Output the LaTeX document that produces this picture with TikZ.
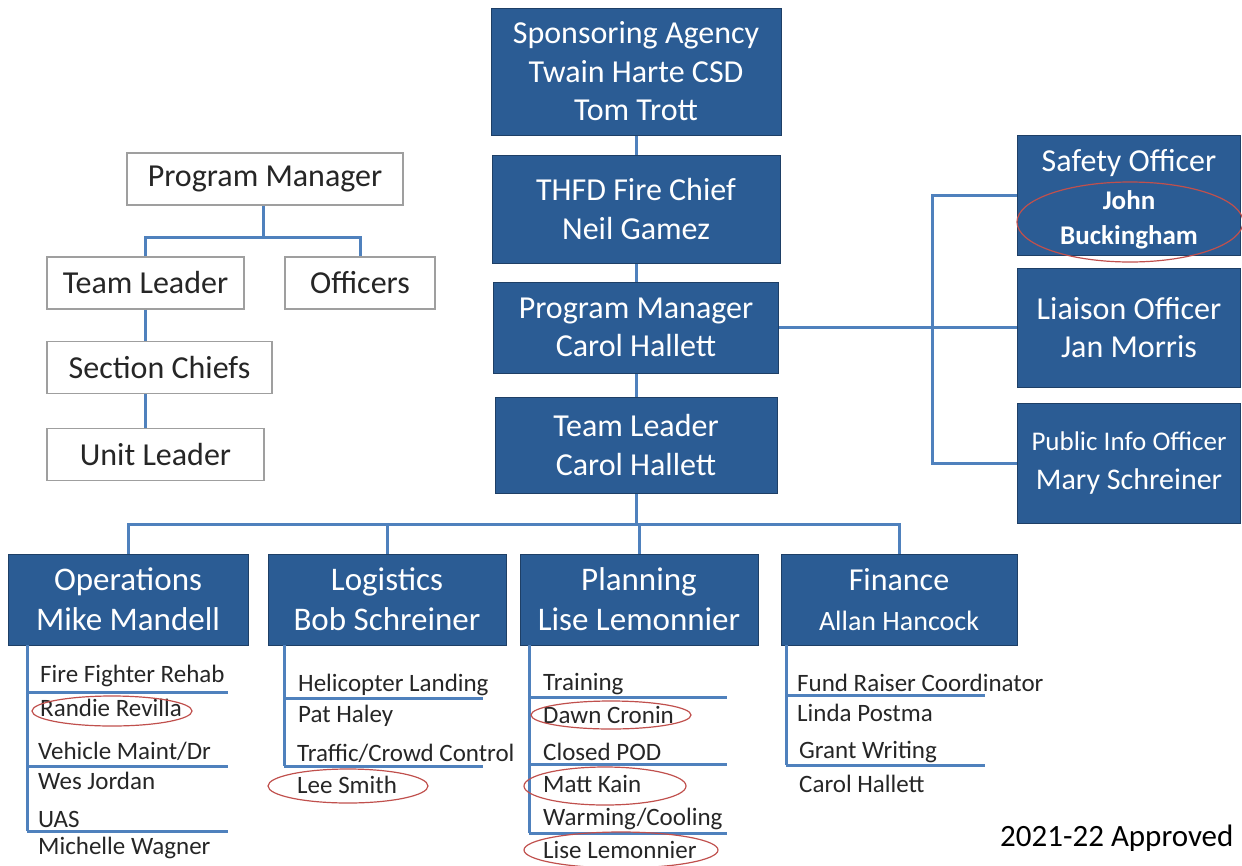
\documentclass[tikz,border=0pt]{standalone}
\usepackage{fontspec}
\setmainfont{Carlito}
\usetikzlibrary{positioning}
\definecolor{boxblue}{HTML}{2B5C94}
\definecolor{boxedge}{HTML}{1E3F66}
\definecolor{linkblue}{HTML}{4F81BD}
\definecolor{ringred}{HTML}{C0504D}
\definecolor{inkgray}{HTML}{262626}

\begin{document}
\begin{tikzpicture}[x=1pt, y=-1pt,
  bluebox/.style={draw=boxedge, line width=1pt, fill=boxblue, text=white, align=center, inner sep=0pt, font=\fontsize{32}{38.5}\selectfont},
  secbox/.style={bluebox, minimum width=238pt, minimum height=91pt, font=\fontsize{33}{40}\selectfont},
  whitebox/.style={draw=gray!75, line width=1.4pt, fill=white, text=inkgray, inner sep=0pt, minimum height=52pt, font=\fontsize{32}{38}\selectfont},
  link/.style={draw=linkblue, line width=3pt},
  item/.style={anchor=west, inner sep=0pt, text=inkgray, font=\fontsize{25}{30}\selectfont},
  ring/.style={draw=ringred, line width=1.2pt}]
\useasboundingbox (0,0) rectangle (1242,865);

% main chain
\node[bluebox, minimum width=290pt, minimum height=127pt] (spons) at (636,71.5) {Sponsoring Agency\\Twain Harte CSD\\Tom Trott};
\node[bluebox, minimum width=288pt, minimum height=108pt] (chief) at (636,209) {THFD Fire Chief\\Neil Gamez};
\node[bluebox, minimum width=285pt, minimum height=91pt] (pm) at (636,327.5) {Program Manager\\Carol Hallett};
\node[bluebox, minimum width=282pt, minimum height=96pt] (tl) at (636,445) {Team Leader\\Carol Hallett};
\draw[link] (spons) -- (chief);
\draw[link] (chief) -- (pm);
\draw[link] (pm) -- (tl);

% officers on the right
\node[bluebox, minimum width=223pt, minimum height=120pt] (safety) at (1129,195) {\rule{0pt}{30pt}Safety Officer\\\fontsize{27}{33}\selectfont\bfseries John\\[-4pt]\fontsize{27}{33}\selectfont\bfseries Buckingham};
\node[bluebox, minimum width=223pt, minimum height=119pt] (liaison) at (1129,327.5) {Liaison Officer\\Jan Morris};
\node[bluebox, minimum width=223pt, minimum height=120pt] (pio) at (1129,463) {\fontsize{27}{35}\selectfont Public Info Officer\\\fontsize{30}{36}\selectfont Mary Schreiner};
\coordinate (rbus) at (932,327.5);
\draw[link] (pm) -- (liaison);
\draw[link] (safety.west) -| (rbus) |- (pio.west);
\draw[ring] (1130,222) ellipse [x radius=113pt, y radius=40pt];

% sections
\node[secbox, minimum width=240pt] (ops) at (128,599.5) {Operations\\Mike Mandell};
\node[secbox] (log) at (387,599.5) {Logistics\\Bob Schreiner};
\node[secbox] (plan) at (639,599.5) {Planning\\Lise Lemonnier};
\node[secbox, minimum width=236pt, font=\fontsize{32}{40}\selectfont] (fin) at (899,599.5) {Finance\\\fontsize{28}{34}\selectfont Allan Hancock};
\coordinate (sbus) at (636,524);
\draw[link] (tl) -- (sbus);
\foreach \s in {ops,log,plan,fin}
  \draw[link] (\s.north) |- (sbus);

% operations list
\draw[link] (27,645) -- (27,831);
\foreach \y in {692,766,831}
  \draw[link] (27,\y) -- (228,\y);
\node[item] (o1) at (40,676) {Fire Fighter Rehab};
\node[item] (o2) at (40,708) {Randie Revilla};
\node[item] (o3) at (38,751) {Vehicle Maint/Dr};
\node[item] (o4) at (38,781) {Wes Jordan};
\node[item] (o5) at (38,819) {UAS};
\node[item] (o6) at (38,848) {Michelle Wagner};
\draw[ring] (112,711) ellipse [x radius=80pt, y radius=15pt];

% logistics list
\draw[link] (284,645) -- (284,766);
\foreach \y in {698,766}
  \draw[link] (284,\y) -- (483,\y);
\node[item] (l1) at (298,685) {Helicopter Landing};
\node[item] (l2) at (298,716) {Pat Haley};
\node[item] (l3) at (297,753) {Traffic/Crowd Control};
\node[item] (l4) at (297,785) {Lee Smith};
\draw[ring] (348,786) ellipse [x radius=80pt, y radius=17pt];

% planning list
\draw[link] (529,645) -- (529,833);
\foreach \y in {697,764,833}
  \draw[link] (529,\y) -- (727,\y);
\node[item] (p1) at (543,684) {Training};
\node[item] (p2) at (543,715) {Dawn Cronin};
\node[item] (p3) at (543,752) {Closed POD};
\node[item] (p4) at (543,784) {Matt Kain};
\node[item] (p5) at (543,819) {Warming/Cooling};
\node[item] (p6) at (543,850) {Lise Lemonnier};
\draw[ring] (611,715) ellipse [x radius=80pt, y radius=14pt];
\draw[ring] (605,786) ellipse [x radius=81pt, y radius=19pt];
\draw[ring] (621,850) ellipse [x radius=97pt, y radius=18pt];

% finance list
\draw[link] (786,645) -- (786,765);
\foreach \y in {695,765}
  \draw[link] (786,\y) -- (985,\y);
\node[item] (f1) at (797,683) {Fund Raiser Coordinator};
\node[item] (f2) at (797,713) {Linda Postma};
\node[item] (f3) at (799,752) {Grant Writing};
\node[item] (f4) at (799,784) {Carol Hallett};

% legend chart on the left
\node[whitebox, minimum width=276pt] (lpm) at (265,179) {Program Manager};
\node[whitebox, minimum width=197pt] (ltl) at (145.5,283) {Team Leader};
\node[whitebox, minimum width=150pt] (loff) at (360,283) {Officers};
\node[whitebox, minimum width=225pt] (lsc) at (159.5,367.5) {Section Chiefs};
\node[whitebox, minimum width=217pt] (lul) at (155.5,454.5) {Unit Leader};
\coordinate (lbus) at (263,237);
\draw[link] (lpm.south -| lbus) -- (lbus);
\draw[link] (ltl.north) |- (lbus) -| (loff.north);
\draw[link] (ltl.south) -- (ltl.south |- lsc.north);
\draw[link] (ltl.south |- lsc.south) -- (ltl.south |- lul.north);

\node[anchor=west, inner sep=0pt, font=\fontsize{31}{36}\selectfont] (appr) at (1000,838) {2021-22 Approved};
\end{tikzpicture}
\end{document}
